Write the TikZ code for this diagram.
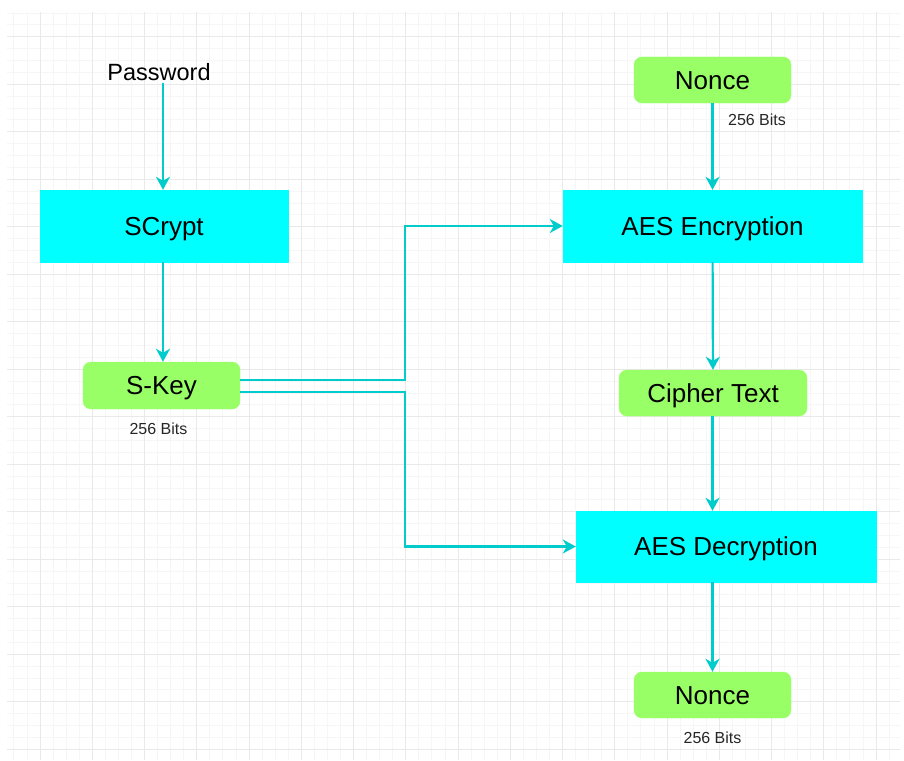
\documentclass[tikz,border=0pt]{standalone}
\usepackage{fontspec}
\setmainfont{Liberation Sans}
\usetikzlibrary{arrows.meta,positioning}

\definecolor{flowcyan}{RGB}{0,204,204}
\definecolor{boxcyan}{RGB}{0,255,255}
\definecolor{boxgreen}{RGB}{153,255,102}
\definecolor{gridminor}{RGB}{246,246,246}
\definecolor{gridmajor}{RGB}{233,233,233}

\tikzset{
	procbox/.style = {fill=boxcyan, draw=boxcyan, inner sep=0pt, text height=18.7pt, text depth=0pt,
		font=\fontsize{26}{30}\selectfont},
	databox/.style = {fill=boxgreen, draw=boxgreen, rounded corners=8pt, inner sep=0pt,
		text height=18.7pt, text depth=0pt, font=\fontsize{26}{30}\selectfont},
	bits/.style = {font=\fontsize{16}{19}\selectfont, text=black!85},
	flow/.style = {draw=flowcyan, line width=2.2pt, -{Stealth[length=13pt,width=14pt,inset=4pt]}}
}

\begin{document}
\begin{tikzpicture}[x=1pt, y=-1pt]
	\useasboundingbox (0,0) rectangle (904,760);
	% background grid
	\begin{scope}
		\clip (7,12) rectangle (900,760);
		\foreach \k in {-3,...,67} {
			\draw[gridminor, line width=0.8pt] ({40+13.0625*\k},12) -- ({40+13.0625*\k},760);
		}
		\foreach \k in {-2,...,63} {
			\draw[gridminor, line width=0.8pt] (7,{36.7+11.875*\k}) -- (900,{36.7+11.875*\k});
		}
		\foreach \k in {-1,...,17} {
			\draw[gridmajor, line width=0.8pt] ({40+52.25*\k},12) -- ({40+52.25*\k},760);
		}
		\foreach \k in {-1,...,16} {
			\draw[gridmajor, line width=0.8pt] (7,{36.7+47.5*\k}) -- (900,{36.7+47.5*\k});
		}
	\end{scope}

	% left column
	\node (password) at (159,72) [font=\fontsize{23.5}{27}\selectfont, inner sep=2pt] {Password};
	\node (scrypt) at (164,226) [procbox, minimum width=248pt, minimum height=72pt] {SCrypt};
	\node (skey) at (161.5,385.5) [databox, minimum width=157pt, minimum height=47pt] {S-Key};
	\node (skeybits) [bits, below=10pt of skey, xshift=-3pt] {256 Bits};

	% right column
	\node (noncein) at (712.5,80) [databox, minimum width=157pt, minimum height=46pt] {Nonce};
	\node (nonceinbits) at (757,120) [bits] {256 Bits};
	\node (aesenc) at (712.5,226) [procbox, minimum width=299pt, minimum height=72pt] {AES Encryption};
	\node (cipher) at (713,393) [databox, minimum width=188pt, minimum height=46pt] {Cipher Text};
	\node (aesdec) at (726,546.5) [procbox, minimum width=300pt, minimum height=71pt] {AES Decryption};
	\node (nonceout) at (712.5,695) [databox, minimum width=157pt, minimum height=46pt] {Nonce};
	\node (nonceoutbits) [bits, below=10pt of nonceout] {256 Bits};

	% connectors
	\draw[flow] (password.south -| scrypt.north) ++(-1,0) coordinate (pw) -- (pw |- scrypt.north);
	\draw[flow] (scrypt.south -| pw) -- (pw |- skey.north);
	\draw[flow] ([yshift=5.5pt]skey.east) -- ++(165,0) |- (aesenc.west);
	\draw[flow] ([yshift=-6.5pt]skey.east) -- ++(165,0) |- (aesdec.west);
	\draw[flow] (noncein) -- (aesenc);
	\draw[flow] (aesenc) -- (cipher);
	\draw[flow] (cipher.south -| noncein) -- (noncein |- aesdec.north);
	\draw[flow] (aesdec.south -| nonceout) -- (nonceout.north);
\end{tikzpicture}
\end{document}
